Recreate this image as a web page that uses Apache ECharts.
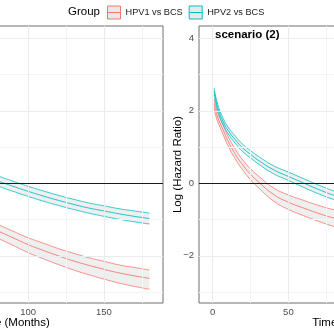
<!DOCTYPE html>
<html>
<head>
<meta charset="utf-8">
<script src="https://cdn.jsdelivr.net/npm/echarts@6/dist/echarts.min.js"></script>
<style>
  html, body { margin: 0; padding: 0; background: #ffffff; }
  #chart { width: 334px; height: 334px; }
</style>
</head>
<body>
<div id="chart"></div>
<script>
// Log hazard ratio over follow-up time, two comparison groups, two scenarios.

// Scenario (1): follow-up months and estimates (mid, upper and lower CI bound)
const months1 = [70, 80, 90, 100, 110, 120, 130, 140, 150, 160, 170, 180];
const hpv1Mid1 = [-1.10, -1.31, -1.50, -1.69, -1.85, -2.00, -2.14, -2.26, -2.37, -2.47, -2.55, -2.62];
const hpv1Upp1 = [-0.93, -1.13, -1.32, -1.50, -1.65, -1.80, -1.93, -2.05, -2.15, -2.25, -2.32, -2.39];
const hpv1Low1 = [-1.29, -1.51, -1.71, -1.91, -2.08, -2.24, -2.39, -2.52, -2.64, -2.75, -2.84, -2.92];
const hpv2Mid1 = [0.25, 0.07, -0.08, -0.22, -0.35, -0.47, -0.58, -0.68, -0.76, -0.84, -0.91, -0.97];
const hpv2Upp1 = [0.39, 0.21, 0.06, -0.08, -0.21, -0.33, -0.44, -0.54, -0.62, -0.70, -0.76, -0.82];
const hpv2Low1 = [0.11, -0.07, -0.22, -0.36, -0.49, -0.61, -0.72, -0.82, -0.91, -0.99, -1.06, -1.12];

// Scenario (2)
const months2 = [1, 2, 4, 7, 10, 15, 20, 25, 30, 40, 50, 60, 70, 80, 90];
const hpv1Mid2 = [2.20, 2.00, 1.75, 1.47, 1.18, 0.80, 0.50, 0.25, 0.05, -0.30, -0.52, -0.68, -0.83, -0.96, -1.08];
const hpv1Upp2 = [2.32, 2.12, 1.87, 1.60, 1.31, 0.94, 0.64, 0.40, 0.21, -0.12, -0.32, -0.47, -0.61, -0.73, -0.84];
const hpv1Low2 = [2.08, 1.88, 1.63, 1.34, 1.05, 0.67, 0.36, 0.10, -0.11, -0.48, -0.72, -0.89, -1.05, -1.19, -1.32];
const hpv2Mid2 = [2.55, 2.32, 2.00, 1.70, 1.47, 1.20, 0.97, 0.80, 0.64, 0.38, 0.19, 0.01, -0.17, -0.33, -0.47];
const hpv2Upp2 = [2.63, 2.40, 2.09, 1.79, 1.56, 1.30, 1.07, 0.90, 0.75, 0.49, 0.31, 0.13, -0.05, -0.21, -0.35];
const hpv2Low2 = [2.47, 2.24, 1.92, 1.61, 1.38, 1.10, 0.87, 0.70, 0.54, 0.27, 0.08, -0.11, -0.29, -0.45, -0.60];

// Axis ticks and labels
const groupNames = ['HPV1 vs BCS', 'HPV2 vs BCS'];
const xMajor = [0, 50, 100, 150];
const xMinor = [25, 75, 125, 175];
const yMajor = [-2, 0, 2, 4];
const yMinor = [-3, -1, 1, 3];
const xTitle = 'Time (Months)';
const yTitle = 'Log (Hazard Ratio)';
const panelTitle2 = 'scenario (2)';
const legendTitle = 'Group';

const RED = '#F8766D';
const TEAL = '#00BFC4';
const FONT = 'Liberation Sans, Arial, Helvetica, sans-serif';

// Rows are [value, month]; encode maps column 1 to x and column 0 to y,
// so stacking (which works on the first numeric column) adds up the values.
const rows = (ts, vs) => ts.map((t, i) => [vs[i], t]);
const spreadRows = (ts, up, lo) => ts.map((t, i) => [+(up[i] - lo[i]).toFixed(4), t]);

function ribbon(panel, name, color, ts, up, mid, lo) {
  const stackId = 'band-' + panel + '-' + name;
  const common = {
    type: 'line', xAxisIndex: panel, yAxisIndex: panel,
    encode: { x: 1, y: 0 },
    showSymbol: false, symbol: 'none', smooth: 0.5,
    silent: true, animation: false, z: 3
  };
  return [
    Object.assign({}, common, {
      name: name + ' lower', stack: stackId, stackStrategy: 'all',
      data: rows(ts, lo), lineStyle: { color: color, width: 0.8 }
    }),
    Object.assign({}, common, {
      name: name + ' band', stack: stackId, stackStrategy: 'all',
      data: spreadRows(ts, up, lo), lineStyle: { color: color, width: 0.8 },
      areaStyle: { color: 'rgba(0,0,0,0.09)' }
    }),
    Object.assign({}, common, {
      name: name, data: rows(ts, mid), lineStyle: { color: color, width: 0.9 },
      itemStyle: { color: color }, z: 4
    })
  ];
}

function gridLines(panel) {
  const major = { color: '#ebebeb', width: 1, type: 'solid' };
  const minor = { color: '#f4f4f4', width: 1, type: 'solid' };
  return {
    type: 'line', xAxisIndex: panel, yAxisIndex: panel, data: [[0, 0]],
    symbol: 'none', lineStyle: { width: 0 }, silent: true, animation: false, z: 1,
    markLine: {
      silent: true, symbol: 'none', animation: false, label: { show: false },
      data: []
        .concat(yMinor.map(v => ({ yAxis: v, lineStyle: minor })))
        .concat(xMinor.map(v => ({ xAxis: v, lineStyle: minor })))
        .concat(yMajor.map(v => ({ yAxis: v, lineStyle: major })))
        .concat(xMajor.map(v => ({ xAxis: v, lineStyle: major })))
    }
  };
}

function zeroLine(panel) {
  return {
    type: 'line', xAxisIndex: panel, yAxisIndex: panel, data: [[0, 0]],
    symbol: 'none', lineStyle: { width: 0 }, silent: true, animation: false, z: 6,
    markLine: {
      silent: true, symbol: 'none', animation: false, label: { show: false },
      data: [{ yAxis: 0, lineStyle: { color: '#1a1a1a', width: 1.2, type: 'solid' } }]
    }
  };
}

const minusFmt = v => (v < 0 ? '\u2212' + Math.abs(v) : String(v));

function xAxisFor(panel) {
  return {
    type: 'value', gridIndex: panel, min: -9, max: 189,
    splitLine: { show: false }, axisLine: { show: false },
    axisTick: { show: true, customValues: xMajor, length: 3, lineStyle: { color: '#333333', width: 1 } },
    axisLabel: { customValues: xMajor, fontSize: 9.5, color: '#4d4d4d', margin: 4, fontFamily: FONT },
    name: xTitle, nameLocation: 'middle', nameGap: 14, nameMoveOverlap: false,
    nameTextStyle: { fontSize: 11.5, color: '#000000', fontFamily: FONT }
  };
}

function yAxisFor(panel, showText) {
  return {
    type: 'value', gridIndex: panel, min: -3.3, max: 4.34,
    splitLine: { show: false }, axisLine: { show: false },
    axisTick: { show: showText, customValues: yMajor, length: 3, lineStyle: { color: '#333333', width: 1 } },
    axisLabel: { show: showText, customValues: yMajor, formatter: minusFmt, fontSize: 9.5, color: '#4d4d4d', margin: 5, fontFamily: FONT },
    name: showText ? yTitle : '', nameLocation: 'middle', nameGap: 15, nameRotate: 90, nameMoveOverlap: false,
    nameTextStyle: { fontSize: 11.5, color: '#000000', fontFamily: FONT }
  };
}

const keyIcon = 'path://M0,0H13V13H0Z M0,6.5H13';

const chart = echarts.init(document.getElementById('chart'), null, { renderer: 'canvas' });
chart.setOption({
  animation: false,
  backgroundColor: '#ffffff',
  textStyle: { fontFamily: FONT },
  title: [
    { text: legendTitle, left: 68, top: 5.5, padding: 0,
      textStyle: { fontSize: 11.5, fontWeight: 'normal', color: '#000000', fontFamily: FONT } },
    { text: panelTitle2, left: 215, top: 29, padding: 0,
      textStyle: { fontSize: 11.5, fontWeight: 'bold', color: '#000000', fontFamily: FONT } }
  ],
  legend: {
    left: 107, top: 5.5, padding: 0, itemWidth: 13, itemHeight: 13, itemGap: 6,
    selectedMode: false,
    textStyle: { fontSize: 9.2, color: '#1a1a1a', fontFamily: FONT },
    data: [
      { name: groupNames[0], icon: keyIcon, itemStyle: { color: '#e8e8e8', borderColor: RED, borderWidth: 1 } },
      { name: groupNames[1], icon: keyIcon, itemStyle: { color: '#e8e8e8', borderColor: TEAL, borderWidth: 1 } }
    ]
  },
  grid: [
    { left: -137, top: 26, width: 300, height: 277, show: true, borderColor: '#6e6e6e', borderWidth: 1,
      backgroundColor: 'transparent', containLabel: false, outerBoundsMode: 'none' },
    { left: 199, top: 26, width: 300, height: 277, show: true, borderColor: '#6e6e6e', borderWidth: 1,
      backgroundColor: 'transparent', containLabel: false, outerBoundsMode: 'none' }
  ],
  xAxis: [xAxisFor(0), xAxisFor(1)],
  yAxis: [yAxisFor(0, false), yAxisFor(1, true)],
  series: [
    gridLines(0), gridLines(1),
    ...ribbon(0, groupNames[0], RED, months1, hpv1Upp1, hpv1Mid1, hpv1Low1),
    ...ribbon(0, groupNames[1], TEAL, months1, hpv2Upp1, hpv2Mid1, hpv2Low1),
    ...ribbon(1, groupNames[0], RED, months2, hpv1Upp2, hpv1Mid2, hpv1Low2),
    ...ribbon(1, groupNames[1], TEAL, months2, hpv2Upp2, hpv2Mid2, hpv2Low2),
    zeroLine(0), zeroLine(1)
  ]
});
</script>
</body>
</html>
